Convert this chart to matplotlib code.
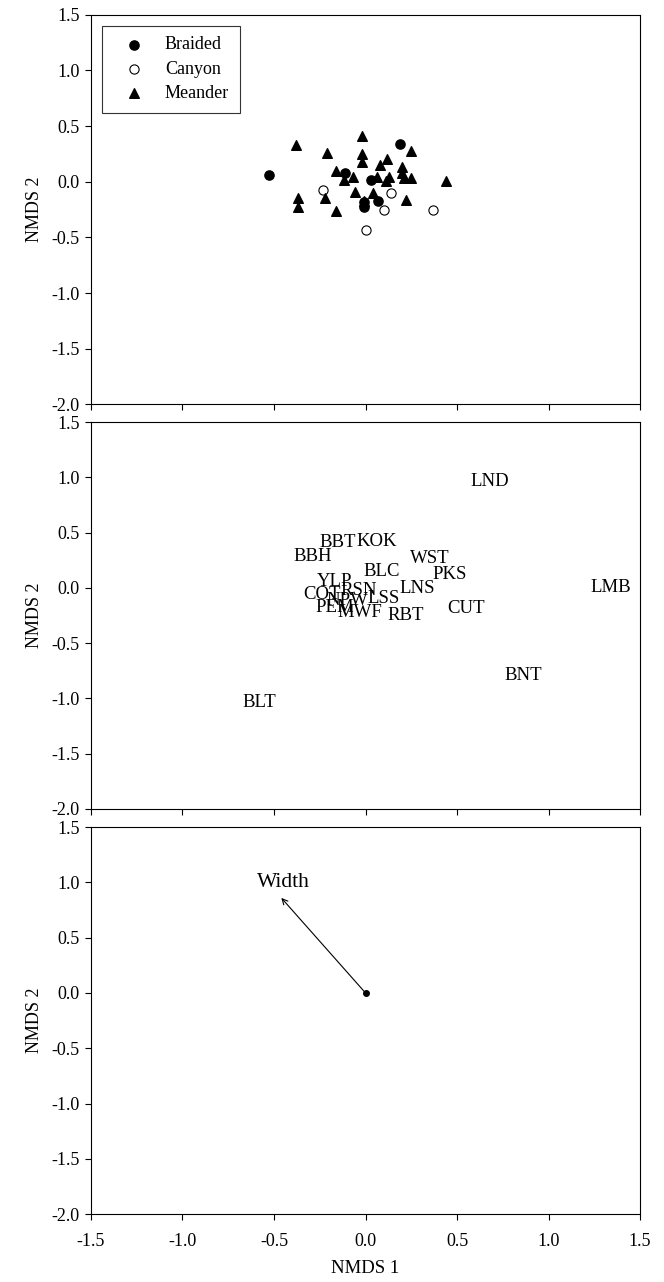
import matplotlib
matplotlib.use("Agg")
import matplotlib.pyplot as plt
import numpy as np

plt.rcParams['font.family'] = ['Liberation Serif', 'DejaVu Serif']
plt.rcParams['axes.unicode_minus'] = False

# panel 1 : sites
braided_x = [-0.53, 0.19, -0.11, 0.03, 0.07, -0.01, -0.01]
braided_y = [0.06, 0.34, 0.08, 0.02, -0.17, -0.18, -0.23]
canyon_x = [-0.23, 0.14, 0.10, 0.37, 0.00]
canyon_y = [-0.07, -0.10, -0.25, -0.25, -0.43]
meander_x = [-0.02, -0.38, -0.21, 0.25, -0.02, -0.02, 0.12, 0.08, 0.20, -0.16,
             0.20, 0.13, 0.11, 0.06, -0.07, -0.12, 0.21, 0.25, 0.44, -0.06,
             0.04, -0.22, -0.37, -0.37, 0.22, -0.16, -0.01]
meander_y = [0.41, 0.33, 0.26, 0.28, 0.25, 0.18, 0.20, 0.15, 0.13, 0.10,
             0.08, 0.04, 0.01, 0.04, 0.04, 0.02, 0.03, 0.03, 0.01, -0.09,
             -0.10, -0.15, -0.15, -0.23, -0.16, -0.26, -0.17]

# panel 2 : species
species = ['LND', 'LMB', 'BNT', 'BLT', 'CUT', 'RBT', 'PKS', 'WST', 'LNS', 'BLC',
           'KOK', 'BBT', 'BBH', 'YLP', 'COT', 'RSN', 'NPW', 'LSS', 'PEM', 'MWF']
species_x = [0.68, 1.34, 0.86, -0.58, 0.55, 0.22, 0.46, 0.35, 0.28, 0.09,
             0.06, -0.15, -0.29, -0.17, -0.24, -0.04, -0.10, 0.10, -0.17, -0.03]
species_y = [0.96, 0.00, -0.79, -1.04, -0.19, -0.25, 0.12, 0.27, -0.01, 0.15,
             0.42, 0.41, 0.28, 0.06, -0.06, -0.02, -0.11, -0.10, -0.18, -0.22]

# panel 3 : environmental vector
vec_name = 'Width'
vec_x = -0.46
vec_y = 0.86

xticks = np.arange(-1.5, 1.51, 0.5)
yticks = np.arange(-2.0, 1.51, 0.5)

fig = plt.figure(figsize=(6.64, 12.82), dpi=100)
left, width = 0.137, 0.827
ax1 = fig.add_axes([left, 0.6845, width, 0.3040])
ax2 = fig.add_axes([left, 0.3690, width, 0.3018])
ax3 = fig.add_axes([left, 0.0530, width, 0.3018])

for ax in (ax1, ax2, ax3):
    ax.set_xlim(-1.5, 1.5)
    ax.set_ylim(-2.0, 1.5)
    ax.set_xticks(xticks)
    ax.set_yticks(yticks)
    ax.set_yticklabels(['%.1f' % v for v in yticks])
    ax.tick_params(direction='out', length=4.5, width=0.8, labelsize=13,
                   top=False, right=False)
    ax.tick_params(axis='x', pad=9)
    for s in ax.spines.values():
        s.set_linewidth(0.8)
    ax.set_ylabel('NMDS 2', fontsize=13, labelpad=6)

ax1.tick_params(labelbottom=False)
ax2.tick_params(labelbottom=False)
ax3.set_xticklabels(['%.1f' % v for v in xticks])
ax3.set_xlabel('NMDS 1', fontsize=13.5, labelpad=7)

ax1.scatter(braided_x, braided_y, s=44, c='black', marker='o', label='Braided', zorder=3)
ax1.scatter(canyon_x, canyon_y, s=44, facecolors='white', edgecolors='black',
            linewidths=0.8, marker='o', label='Canyon', zorder=3)
ax1.scatter(meander_x, meander_y, s=48, c='black', marker='^', label='Meander', zorder=3)
leg = ax1.legend(loc='upper left', fontsize=13, frameon=True, fancybox=False,
                 edgecolor='black', borderaxespad=0.6, handletextpad=0.5,
                 borderpad=0.6, labelspacing=0.4, handlelength=2.4)
leg.get_frame().set_linewidth(0.8)

for name, x, y in zip(species, species_x, species_y):
    ax2.text(x, y, name, fontsize=13.5, ha='center', va='center')

ax3.annotate('', xy=(vec_x, vec_y), xytext=(0, 0),
             arrowprops=dict(arrowstyle='->', lw=0.8, color='black',
                             shrinkA=0, shrinkB=0))
ax3.plot([0], [0], 'o', color='black', ms=4)
ax3.text(vec_x + 0.01, vec_y + 0.14, vec_name, fontsize=15.5, ha='center', va='center')

fig.savefig('out.png', dpi=100)
